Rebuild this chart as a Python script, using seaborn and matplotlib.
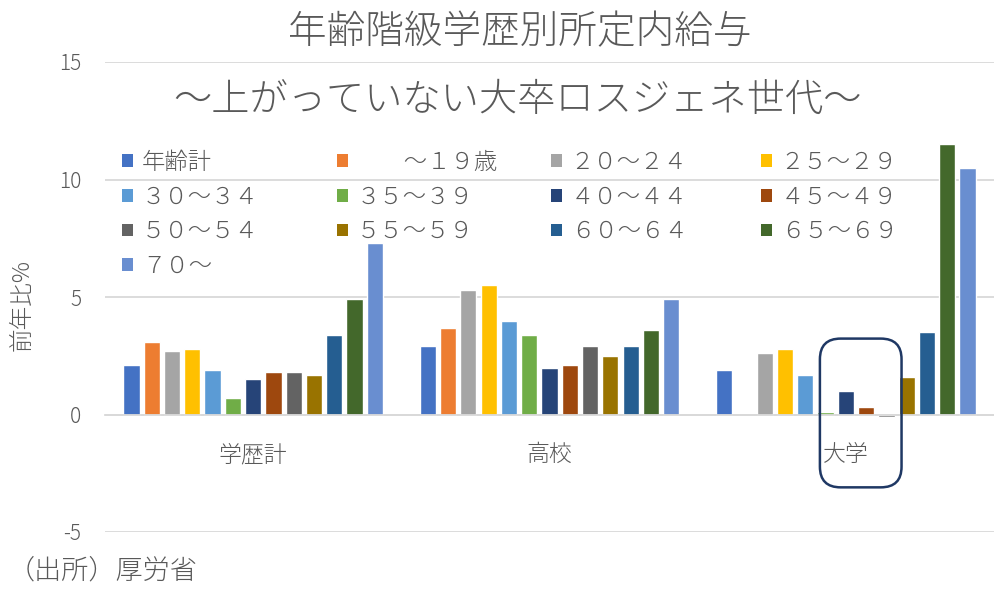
import numpy as np
import pandas as pd
import matplotlib.pyplot as plt
import seaborn as sns
from matplotlib.patches import Patch, FancyBboxPatch

# categories and series
groups = ['学歴計', '高校', '大学']
series = ['年齢計', '　　～１９歳', '２０～２４', '２５～２９',
          '３０～３４', '３５～３９', '４０～４４', '４５～４９',
          '５０～５４', '５５～５９', '６０～６４', '６５～６９', '７０～']
colors = ['#4472C4', '#ED7D31', '#A5A5A5', '#FFC000', '#5B9BD5', '#70AD47',
          '#264478', '#9E480E', '#636363', '#997300', '#255E91', '#43682B', '#698ED0']

# 前年比% per group
gakureki_kei = [2.1, 3.1, 2.7, 2.8, 1.9, 0.7, 1.5, 1.8, 1.8, 1.7, 3.4, 4.9, 7.3]
koukou = [2.9, 3.7, 5.3, 5.5, 4.0, 3.4, 2.0, 2.1, 2.9, 2.5, 2.9, 3.6, 4.9]
daigaku = [1.9, np.nan, 2.6, 2.8, 1.7, 0.1, 1.0, 0.3, -0.1, 1.6, 3.5, 11.5, 10.5]

yticks = [-5, 0, 5, 10, 15]

rows = []
for g, vals in zip(groups, [gakureki_kei, koukou, daigaku]):
    for s, v in zip(series, vals):
        rows.append({'group': g, 'series': s, 'value': v})
df = pd.DataFrame(rows).dropna()

sns.set_style('white')
plt.rcParams['font.family'] = ['Noto Sans CJK JP', 'DejaVu Sans']
plt.rcParams['font.weight'] = 'light'
plt.rcParams['axes.unicode_minus'] = False
TXT = '#595959'
W, H = 994, 589

fig = plt.figure(figsize=(9.94, 5.89), dpi=100)
ax = fig.add_axes([105 / W, 1 - 532 / H, (994 - 105) / W, (532 - 62) / H])

sns.barplot(data=df, x='group', y='value', hue='series', order=groups,
            hue_order=series, palette=colors, saturation=1, width=0.89,
            gap=0.2, errorbar=None, legend=False, ax=ax)

ax.set_ylim(-5, 15)
ax.set_xlim(-0.5, 2.5)
ax.set_yticks(yticks)
ax.yaxis.grid(True, color='#D9D9D9', linewidth=1.3)
ax.set_axisbelow(True)
for s in ['top', 'right', 'left']:
    ax.spines[s].set_visible(False)
ax.spines['bottom'].set_position(('data', 0))
ax.spines['bottom'].set_color('#D9D9D9')
ax.spines['bottom'].set_linewidth(1.3)
ax.tick_params(axis='y', length=0, pad=17, labelsize=15, labelcolor=TXT)
ax.tick_params(axis='x', length=0, pad=20, labelsize=16.5, labelcolor=TXT)
ax.set_xlabel('')
ax.set_ylabel('')

# titles
fig.text(520 / W, 1 - 32 / H, '年齢階級学歴別所定内給与', ha='center', va='center',
         fontsize=27.8, color=TXT)
fig.text(518 / W, 1 - 100 / H, '～上がっていない大卒ロスジェネ世代～', ha='center',
         va='center', fontsize=27.5, color=TXT)
fig.text(22 / W, 1 - 305 / H, '前年比%', rotation=90, ha='center', va='center',
         fontsize=17, color=TXT)
fig.text(8 / W, 1 - 570 / H, '（出所）厚労省', ha='left', va='center',
         fontsize=19.5, color=TXT)

# legend laid out in 4 equal columns, row-major like Excel
col_x = [122, 337, 551, 761]
for c in range(4):
    idx = list(range(c, len(series), 4))
    handles = [Patch(facecolor=colors[i], edgecolor='none', label=series[i]) for i in idx]
    leg = ax.legend(handles=handles, loc='upper left',
                    bbox_to_anchor=(col_x[c] / W, 1 - 150 / H),
                    bbox_transform=fig.transFigure, frameon=False,
                    borderpad=0, borderaxespad=0, fontsize=16.8,
                    handlelength=0.45, handleheight=0.45, handletextpad=0.4,
                    labelspacing=0.41, labelcolor=TXT)
    if c < 3:
        ax.add_artist(leg)

# highlight box around the 大学 35-54 bars
box = FancyBboxPatch((1.9125, -3.1), 0.2755, 6.33,
                     boxstyle='round,pad=0,rounding_size=0.07',
                     mutation_aspect=295 / 23.5,
                     facecolor='none', edgecolor='#1F3864', linewidth=1.8,
                     clip_on=False, zorder=5)
ax.add_patch(box)

fig.savefig('out.png', dpi=100)
